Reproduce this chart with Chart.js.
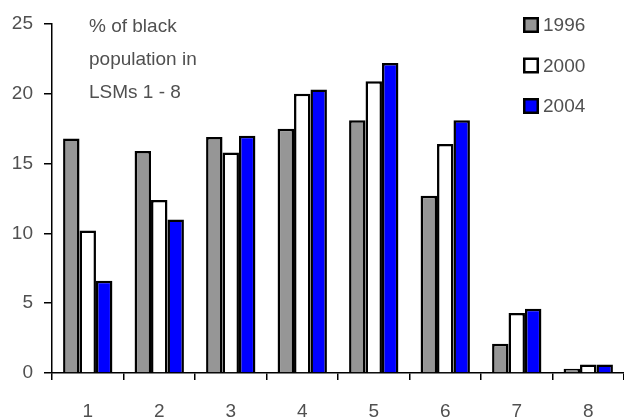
<!DOCTYPE html>
<html>
<head>
<meta charset="utf-8">
<script src="https://cdn.jsdelivr.net/npm/chart.js@4/dist/chart.umd.min.js"></script>
<style>
html,body{margin:0;padding:0;background:#fff;}
#wrap{width:624px;height:419px;position:relative;}
</style>
</head>
<body>
<div id="wrap"><canvas id="c" width="624" height="419"></canvas></div>
<script>
const categories = ['1','2','3','4','5','6','7','8'];
const seriesNames = ['1996','2000','2004'];
const values1996 = [16.8, 15.9, 16.9, 17.5, 18.1, 12.7, 2.1, 0.3];
const values2000 = [10.2, 12.4, 15.8, 20.0, 20.9, 16.4, 4.3, 0.6];
const values2004 = [6.6, 11.0, 17.0, 20.3, 22.2, 18.1, 4.6, 0.6];
const seriesColors = ['#969696', '#ffffff', '#0000ff'];
const yTicks = [0, 5, 10, 15, 20, 25];
const noteLines = ['% of black', 'population in', 'LSMs 1 - 8'];

const textColor = '#505050';
const fontFamily = '"Liberation Sans", Arial, Helvetica, sans-serif';

const overlay = {
  id: 'overlay',
  afterDraw(chart) {
    const ctx = chart.ctx;
    ctx.save();
    ctx.font = '19px ' + fontFamily;
    ctx.fillStyle = textColor;
    ctx.textBaseline = 'middle';
    ctx.textAlign = 'left';
    noteLines.forEach((t, i) => ctx.fillText(t, 89, 27 + i * 33));
    chart.data.datasets.forEach((ds, i) => {
      const y = 17 + i * 40.5;
      ctx.fillStyle = ds.backgroundColor;
      ctx.fillRect(523, y, 16, 16);
      ctx.lineWidth = 2.5;
      ctx.strokeStyle = '#000';
      ctx.strokeRect(524.25, y + 1.25, 13.5, 13.5);
      ctx.fillStyle = textColor;
      ctx.fillText(ds.label, 543, y + 9);
    });
    ctx.restore();
  }
};

new Chart(document.getElementById('c'), {
  type: 'bar',
  data: {
    labels: categories,
    datasets: [
      { label: seriesNames[0], data: values1996, backgroundColor: seriesColors[0] },
      { label: seriesNames[1], data: values2000, backgroundColor: seriesColors[1] },
      { label: seriesNames[2], data: values2004, backgroundColor: seriesColors[2] }
    ].map(d => Object.assign(d, { borderColor: '#000', borderWidth: 2.5, categoryPercentage: 0.69, barPercentage: 1 }))
  },
  options: {
    responsive: false,
    animation: false,
    devicePixelRatio: 1,
    layout: { padding: { top: 24, right: 0, left: 0, bottom: 0 } },
    plugins: { legend: { display: false }, tooltip: { enabled: false }, title: { display: false } },
    scales: {
      x: {
        grid: { display: true, drawOnChartArea: false, drawTicks: true, tickLength: 7, color: '#000', lineWidth: 1.5, offset: true },
        border: { display: true, color: '#000', width: 1.5 },
        ticks: { color: textColor, font: { family: fontFamily, size: 19 }, padding: 20, maxRotation: 0 },
        afterFit(s) { s.height = 46; }
      },
      y: {
        min: 0, max: 25,
        afterBuildTicks(s) { s.ticks = yTicks.map(v => ({ value: v })); },
        grid: { display: true, drawOnChartArea: false, drawTicks: true, tickLength: 8, color: '#000', lineWidth: 1.5 },
        border: { display: true, color: '#000', width: 1.5 },
        ticks: { color: textColor, font: { family: fontFamily, size: 19 }, padding: 11 },
        afterFit(s) { s.width = 52; }
      }
    }
  },
  plugins: [overlay]
});
</script>
</body>
</html>
